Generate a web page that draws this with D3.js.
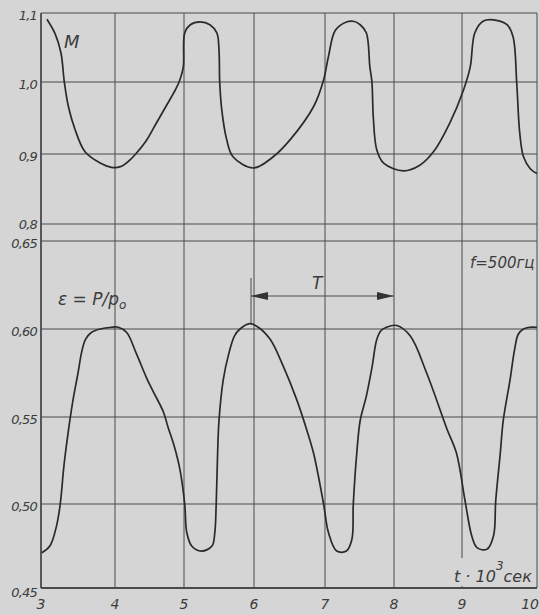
<!DOCTYPE html>
<html><head><meta charset="utf-8">
<script src="https://cdn.jsdelivr.net/npm/d3@7"></script>
<style>
html,body{margin:0;padding:0;background:#d5d5d5;}
svg{display:block;}
</style></head>
<body>
<script>
// ---- data ----
const xTicks = [3,4,5,6,7,8,9,10];
const mTicks = [0.8,0.9,1.0,1.1];
const mTickLabels = ["0,8","0,9","1,0","1,1"];
const eTicks = [0.45,0.50,0.55,0.60,0.65];
const eTickLabels = ["0,45","0,50","0,55","0,60","0,65"];

const mT = [3.08,3.19,3.27,3.315,3.37,3.46,3.595,3.80,3.95,4.08,4.20,4.30,4.45,4.60,4.75,4.88,4.94,4.99,5.01,5.09,5.23,5.37,5.47,5.50,5.51,5.54,5.61,5.70,5.99,6.27,6.51,6.84,6.98,7.05,7.15,7.31,7.41,7.51,7.60,7.65,7.68,7.70,7.75,7.85,8.14,8.38,8.58,8.82,9.02,9.11,9.17,9.28,9.42,9.60,9.68,9.73,9.77,9.82,9.91,10.0];
const mVal = [1.091,1.070,1.042,1.0,0.966,0.934,0.903,0.887,0.881,0.882,0.890,0.900,0.918,0.943,0.968,0.990,1.003,1.022,1.071,1.083,1.087,1.083,1.071,1.046,1.0,0.961,0.920,0.896,0.880,0.896,0.920,0.966,1.003,1.037,1.075,1.087,1.088,1.083,1.071,1.022,1.0,0.951,0.906,0.887,0.876,0.884,0.903,0.943,0.989,1.022,1.071,1.088,1.090,1.083,1.066,0.998,0.929,0.896,0.879,0.872];

const eT = [3.01,3.12,3.21,3.26,3.31,3.37,3.43,3.50,3.55,3.60,3.68,3.80,3.95,4.05,4.17,4.31,4.46,4.56,4.70,4.77,4.86,4.94,5.01,5.04,5.11,5.25,5.40,5.44,5.46,5.48,5.50,5.56,5.64,5.72,5.80,5.94,6.06,6.23,6.41,6.60,6.74,6.84,6.98,7.05,7.17,7.31,7.39,7.41,7.46,7.51,7.60,7.68,7.75,7.81,7.89,8.04,8.24,8.48,8.78,8.92,9.04,9.13,9.20,9.33,9.42,9.45,9.51,9.55,9.64,9.70,9.75,9.82,9.90,10.0];
const eVal = [0.471,0.475,0.487,0.500,0.522,0.542,0.559,0.575,0.587,0.594,0.598,0.600,0.601,0.601,0.598,0.586,0.572,0.564,0.553,0.544,0.533,0.520,0.500,0.483,0.475,0.472,0.475,0.483,0.500,0.529,0.548,0.571,0.586,0.596,0.600,0.603,0.601,0.594,0.579,0.560,0.543,0.529,0.500,0.483,0.472,0.472,0.479,0.500,0.529,0.548,0.562,0.578,0.594,0.599,0.601,0.602,0.596,0.575,0.543,0.529,0.502,0.481,0.474,0.473,0.481,0.502,0.529,0.548,0.571,0.588,0.597,0.600,0.601,0.601];

// ---- layout ----
const W = 540, H = 615;
const svg = d3.select("body").append("svg").attr("width", W).attr("height", H);
const bg = "#d5d5d5";
svg.append("rect").attr("width", W).attr("height", H).attr("fill", bg);

const x = d3.scaleLinear().domain(xTicks).range([41,115,184,254,325,394,462,537]);
const yM = d3.scaleLinear().domain(mTicks).range([224,154,82,13]);
const yE = d3.scaleLinear().domain(eTicks).range([588,504,417,329,241]);

const gridCol = "#4a4a4a", txtCol = "#3c3c3c", curveCol = "#2a2a2a";
const g = svg.append("g");

// horizontal grid
mTicks.forEach(v => g.append("line").attr("x1", x(3)).attr("x2", x(10)).attr("y1", yM(v)).attr("y2", yM(v))
  .attr("stroke", gridCol).attr("stroke-width", 1.1));
eTicks.forEach(v => g.append("line").attr("x1", x(3)).attr("x2", x(10)).attr("y1", yE(v)).attr("y2", yE(v))
  .attr("stroke", gridCol).attr("stroke-width", v===0.45 ? 1.8 : 1.1));
// vertical grid
xTicks.forEach(v => g.append("line").attr("x1", x(v)).attr("x2", x(v)).attr("y1", yM(1.1)).attr("y2", yE(0.45))
  .attr("stroke", gridCol).attr("stroke-width", v===3 ? 1.8 : 1));

// tick labels
const fnt = "'DejaVu Sans', sans-serif";
mTicks.forEach((v,i) => svg.append("text").attr("x", 37).attr("y", yM(v) + (v===0.8 ? 5 : 7))
  .attr("text-anchor","end").attr("font-family",fnt).attr("font-style","italic").attr("font-size",13)
  .attr("fill",txtCol).attr("letter-spacing",-0.8).text(mTickLabels[i]));
eTicks.forEach((v,i) => svg.append("text").attr("x", 37).attr("y", yE(v) + (v===0.45 ? 9 : 7))
  .attr("text-anchor","end").attr("font-family",fnt).attr("font-style","italic").attr("font-size",13)
  .attr("fill",txtCol).attr("letter-spacing",-0.8).text(eTickLabels[i]));
xTicks.forEach(v => svg.append("text").attr("x", v===10 ? 539 : x(v)).attr("y", 609)
  .attr("text-anchor", v===10 ? "end" : "middle").attr("font-family",fnt).attr("font-style","italic").attr("font-size",14)
  .attr("fill",txtCol).text(v));

// curves
const line = d3.line().curve(d3.curveCatmullRom.alpha(0.5));
svg.append("path").attr("d", line.x(d=>x(d[0])).y(d=>yM(d[1]))(mT.map((t,i)=>[t,mVal[i]])))
  .attr("fill","none").attr("stroke",curveCol).attr("stroke-width",1.7);
svg.append("path").attr("d", line.x(d=>x(d[0])).y(d=>yE(d[1]))(eT.map((t,i)=>[t,eVal[i]])))
  .attr("fill","none").attr("stroke",curveCol).attr("stroke-width",1.7);

// annotations
const ann = (tx,ty,s,size,anchor) => svg.append("text").attr("x",tx).attr("y",ty)
  .attr("font-family",fnt).attr("font-style","italic").attr("font-size",size)
  .attr("fill",txtCol).attr("text-anchor",anchor||"start").text(s);
ann(64,48,"M",18);
const eps = svg.append("text").attr("x",58).attr("y",305).attr("font-family",fnt).attr("font-style","italic")
  .attr("font-size",17).attr("fill",txtCol);
eps.append("tspan").text("ε = P/p");
eps.append("tspan").attr("font-size",12).attr("dy",4).text("o");
ann(470,268,"f=500гц",15);
ann(312,289,"T",17);

// period arrow
const ay = 296;
svg.append("line").attr("x1", x(6)-3).attr("x2", x(6)-3).attr("y1", 278).attr("y2", 323).attr("stroke",gridCol).attr("stroke-width",1);
svg.append("line").attr("x1", x(6)-3).attr("x2", x(8)).attr("y1", ay).attr("y2", ay).attr("stroke",gridCol).attr("stroke-width",1.2);
svg.append("path").attr("d", `M${x(6)-3},${ay} L${x(6)+14},${ay-4} L${x(6)+14},${ay+4} Z`).attr("fill","#333");
svg.append("path").attr("d", `M${x(8)},${ay} L${x(8)-17},${ay-4} L${x(8)-17},${ay+4} Z`).attr("fill","#333");

// time axis label with background
svg.append("rect").attr("x",452).attr("y",558).attr("width",76).attr("height",28).attr("fill",bg);
const tl = svg.append("text").attr("x",454).attr("y",582).attr("font-family",fnt).attr("font-style","italic")
  .attr("font-size",16).attr("fill",txtCol);
tl.append("tspan").text("t · 10");
tl.append("tspan").attr("font-size",12).attr("dy",-12).text("3");
tl.append("tspan").attr("dy",12).text("сек");
</script>
</body></html>
